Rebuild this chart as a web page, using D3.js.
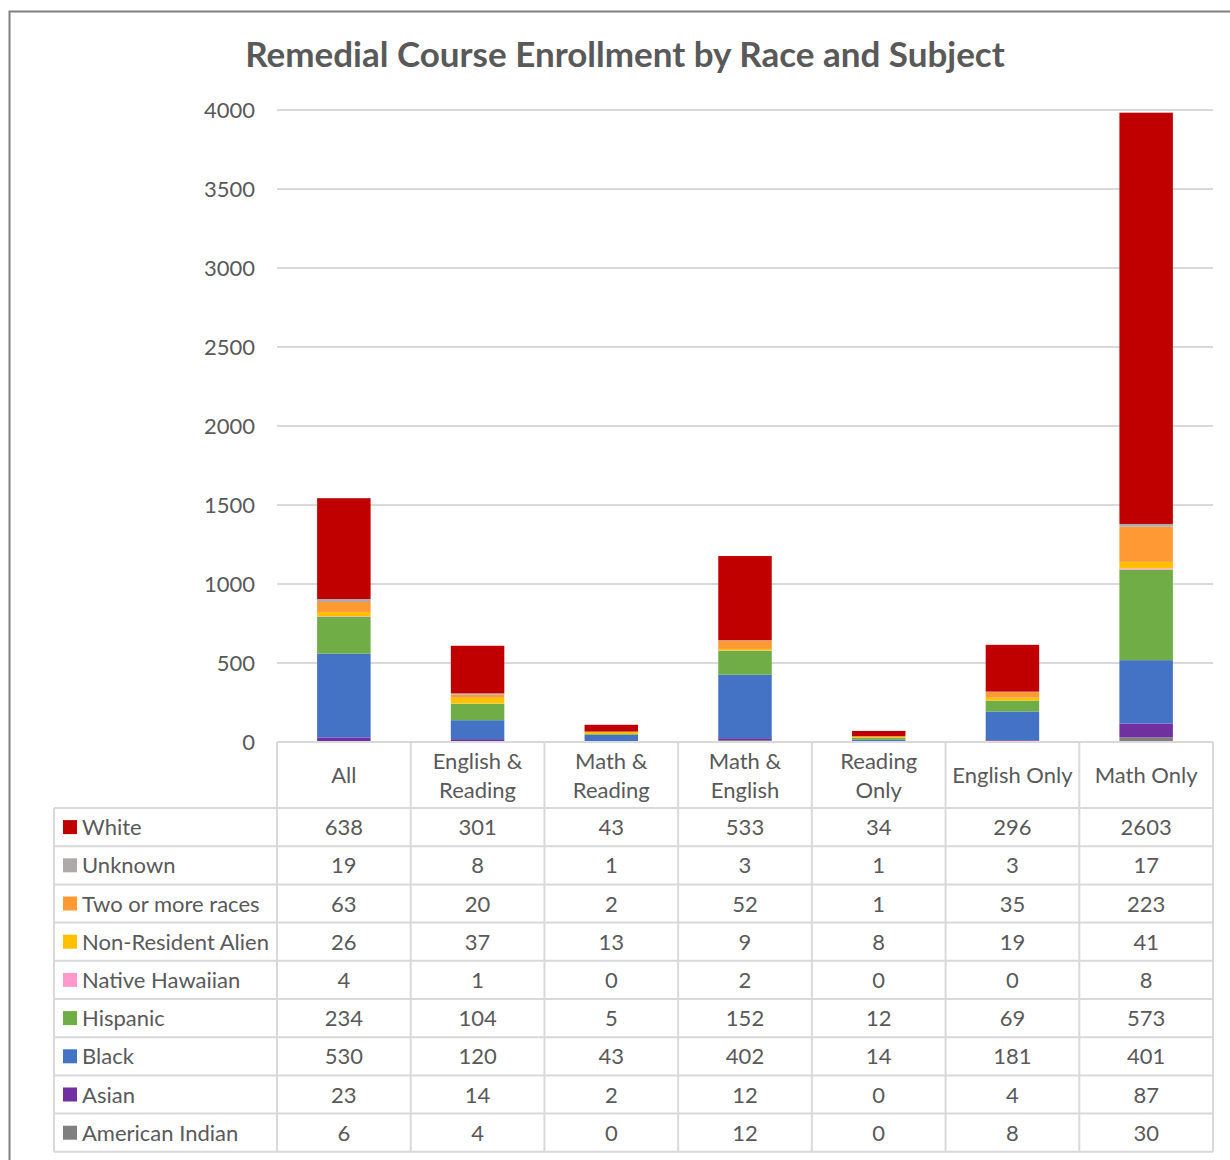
<!DOCTYPE html>
<html>
<head>
<meta charset="utf-8">
<script src="https://cdn.jsdelivr.net/npm/d3@7/dist/d3.min.js"></script>
<style>
  body { margin: 0; background: #fff; }
  text { font-family: Lato, "Open Sans", sans-serif; fill: #595959; }
</style>
</head>
<body>
<div class="chart"></div>
<script>
// data
var categories = ["All", "English & Reading", "Math & Reading", "Math & English", "Reading Only", "English Only", "Math Only"];
var categoryLines = [["All"], ["English &", "Reading"], ["Math &", "Reading"], ["Math &", "English"], ["Reading", "Only"], ["English Only"], ["Math Only"]];

// stack order, bottom to top
var races = ["American Indian", "Asian", "Black", "Hispanic", "Native Hawaiian", "Non-Resident Alien", "Two or more races", "Unknown", "White"];
var raceColors = ["#7f7f7f", "#7030a0", "#4472c4", "#70ad47", "#ff99cc", "#ffc000", "#ff9933", "#aeaaaa", "#c00000"];

var americanIndian = [6, 4, 0, 12, 0, 8, 30];
var asian = [23, 14, 2, 12, 0, 4, 87];
var black = [530, 120, 43, 402, 14, 181, 401];
var hispanic = [234, 104, 5, 152, 12, 69, 573];
var nativeHawaiian = [4, 1, 0, 2, 0, 0, 8];
var nonResidentAlien = [26, 37, 13, 9, 8, 19, 41];
var twoOrMore = [63, 20, 2, 52, 1, 35, 223];
var unknown = [19, 8, 1, 3, 1, 3, 17];
var white = [638, 301, 43, 533, 34, 296, 2603];

var seriesValues = [americanIndian, asian, black, hispanic, nativeHawaiian, nonResidentAlien, twoOrMore, unknown, white];

var yTicks = [0, 500, 1000, 1500, 2000, 2500, 3000, 3500, 4000];

// Step 0: chart set up
var svgWidth = 1230;
var svgHeight = 1160;

var plotLeft = 277, plotRight = 1213, plotTop = 110, plotBottom = 742;
var headerHeight = 66, rowHeight = 38.2, legendLeft = 54;

var svg = d3.select(".chart")
  .append("svg")
  .attr("width", svgWidth)
  .attr("height", svgHeight);

// outer frame
svg.append("rect")
  .attr("x", 9.5).attr("y", 11.5)
  .attr("width", 1240).attr("height", 1170)
  .attr("fill", "none")
  .attr("stroke", "#808080")
  .attr("stroke-width", 2);

svg.append("text")
  .attr("x", 625).attr("y", 67)
  .attr("text-anchor", "middle")
  .style("font-size", "35px")
  .style("font-weight", "bold")
  .text("Remedial Course Enrollment by Race and Subject");

var x = d3.scaleBand().domain(categories).range([plotLeft, plotRight]).paddingInner(0).paddingOuter(0);
var y = d3.scaleLinear().domain([0, 4000]).range([plotBottom, plotTop]);

// gridlines
svg.append("g")
  .selectAll("line")
  .data(yTicks.slice(1))
  .enter()
  .append("line")
  .attr("x1", plotLeft).attr("x2", plotRight)
  .attr("y1", function(d) { return y(d); })
  .attr("y2", function(d) { return y(d); })
  .attr("stroke", "#d9d9d9")
  .attr("stroke-width", 2);

// y axis labels
var leftAxis = d3.axisLeft(y).tickValues(yTicks).tickFormat(d3.format("d")).tickSize(0).tickPadding(0);
var yAxis = svg.append("g")
  .attr("transform", "translate(255,0)")
  .call(leftAxis);
yAxis.select(".domain").remove();
yAxis.selectAll("text")
  .style("font-size", "22px")
  .style("fill", "#595959")
  .style("font-family", "Lato, sans-serif");

// stacked bars
var table = categories.map(function(c, i) {
  var row = { category: c };
  races.forEach(function(r, j) { row[r] = seriesValues[j][i]; });
  return row;
});
var stacked = d3.stack().keys(races)(table);

var barWidth = x.bandwidth() * 0.4;
svg.append("g")
  .selectAll("g")
  .data(stacked)
  .enter()
  .append("g")
  .attr("fill", function(d, i) { return raceColors[i]; })
  .selectAll("rect")
  .data(function(d) { return d; })
  .enter()
  .append("rect")
  .attr("x", function(d) { return x(d.data.category) + (x.bandwidth() - barWidth) / 2; })
  .attr("y", function(d) { return y(d[1]); })
  .attr("width", barWidth)
  .attr("height", function(d) { return y(d[0]) - y(d[1]); });

// data table
var tableBottom = plotBottom + headerHeight + rowHeight * races.length;
var grid = svg.append("g")
  .attr("stroke", "#d9d9d9")
  .attr("stroke-width", 2);

// header borders
grid.append("line").attr("x1", plotLeft).attr("x2", plotRight).attr("y1", plotBottom).attr("y2", plotBottom);
// row borders
d3.range(races.length + 1).forEach(function(k) {
  var yy = plotBottom + headerHeight + rowHeight * k;
  grid.append("line").attr("x1", legendLeft).attr("x2", plotRight).attr("y1", yy).attr("y2", yy);
});
// column borders
categories.forEach(function(c, i) {
  grid.append("line")
    .attr("x1", x(c)).attr("x2", x(c))
    .attr("y1", plotBottom).attr("y2", tableBottom);
});
grid.append("line").attr("x1", plotRight).attr("x2", plotRight).attr("y1", plotBottom).attr("y2", tableBottom);
grid.append("line").attr("x1", legendLeft).attr("x2", legendLeft).attr("y1", plotBottom + headerHeight).attr("y2", tableBottom);

// header labels
categoryLines.forEach(function(lines, i) {
  var cx = x(categories[i]) + x.bandwidth() / 2;
  var cy = plotBottom + headerHeight / 2;
  var t = svg.append("text")
    .attr("x", cx)
    .attr("text-anchor", "middle")
    .style("font-size", "22px");
  lines.forEach(function(line, k) {
    t.append("tspan")
      .attr("x", cx)
      .attr("y", cy + 8 + (k - (lines.length - 1) / 2) * 29)
      .text(line);
  });
});

// rows, top row is the top of the stack
var displayOrder = races.map(function(r, j) { return j; }).reverse();
displayOrder.forEach(function(j, k) {
  var rowMid = plotBottom + headerHeight + rowHeight * k + rowHeight / 2;
  svg.append("rect")
    .attr("x", 63).attr("y", rowMid - 7)
    .attr("width", 14).attr("height", 14)
    .attr("fill", raceColors[j]);
  svg.append("text")
    .attr("x", 82).attr("y", rowMid + 8)
    .style("font-size", "22px")
    .text(races[j]);
  seriesValues[j].forEach(function(v, i) {
    svg.append("text")
      .attr("x", x(categories[i]) + x.bandwidth() / 2)
      .attr("y", rowMid + 8)
      .attr("text-anchor", "middle")
      .style("font-size", "22px")
      .text(v);
  });
});
</script>
</body>
</html>
